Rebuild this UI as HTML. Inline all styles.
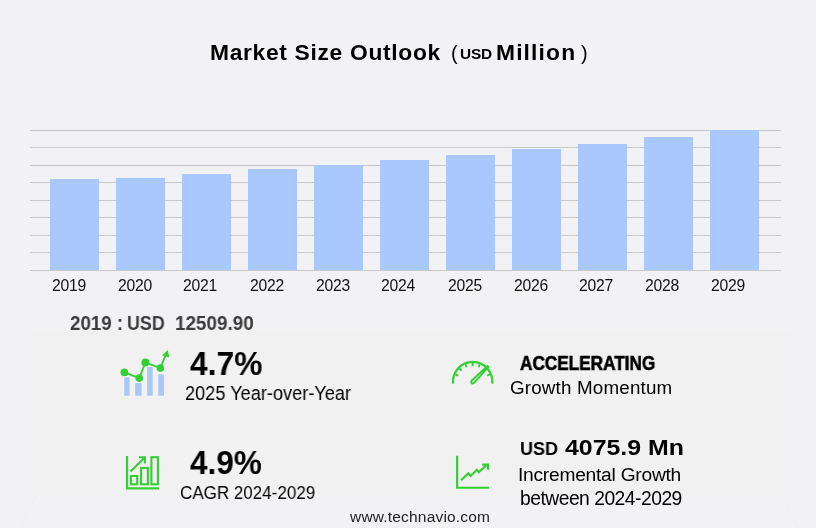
<!DOCTYPE html>
<html><head><meta charset="utf-8">
<style>
*{margin:0;padding:0;box-sizing:border-box}
html,body{width:816px;height:528px;overflow:hidden;background:#f2f2f4;font-family:"Liberation Sans",sans-serif;color:#000}
.a{position:absolute;white-space:nowrap;line-height:1;transform-origin:0 0;will-change:transform}
.grid{position:absolute;left:30px;width:751px;height:1px;background:#c8c8c8}
.bar{position:absolute;width:49px;background:#a8c8fe}
#panel{position:absolute;left:31px;top:330px;width:761px;height:166px;background:#f1f1f1}
svg{position:absolute;overflow:visible}

</style></head>
<body>
<div class="grid" style="top:130px"></div>
<div class="grid" style="top:147px"></div>
<div class="grid" style="top:165px"></div>
<div class="grid" style="top:182px"></div>
<div class="grid" style="top:200px"></div>
<div class="grid" style="top:217px"></div>
<div class="grid" style="top:235px"></div>
<div class="grid" style="top:252px"></div>
<div class="grid" style="top:270px"></div>
<div class="bar" style="left:50px;top:179px;height:91px"></div>
<div class="bar" style="left:116px;top:178px;height:92px"></div>
<div class="bar" style="left:182px;top:174px;height:96px"></div>
<div class="bar" style="left:248px;top:169px;height:101px"></div>
<div class="bar" style="left:314px;top:165px;height:105px"></div>
<div class="bar" style="left:380px;top:160px;height:110px"></div>
<div class="bar" style="left:446px;top:155px;height:115px"></div>
<div class="bar" style="left:512px;top:149px;height:121px"></div>
<div class="bar" style="left:578px;top:144px;height:126px"></div>
<div class="bar" style="left:644px;top:137px;height:133px"></div>
<div class="bar" style="left:710px;top:130px;height:140px"></div>
<div id="panel"></div>
<svg style="left:0;top:0" width="816" height="528" viewBox="0 0 816 528"><path d="M124.2,395.8 V378.5 Q124.2,377.3 125.4,377.3 H128.4 Q129.6,377.3 129.6,378.5 V395.8Z" fill="#a9c8f6"/><path d="M135.1,395.8 V384.2 Q135.1,383.0 136.29999999999998,383.0 H140.4 Q141.6,383.0 141.6,384.2 V395.8Z" fill="#a9c8f6"/><path d="M147.1,395.8 V368.3 Q147.1,367.1 148.29999999999998,367.1 H151.5 Q152.7,367.1 152.7,368.3 V395.8Z" fill="#a9c8f6"/><path d="M158.2,395.8 V375.4 Q158.2,374.2 159.39999999999998,374.2 H162.8 Q164.0,374.2 164.0,375.4 V395.8Z" fill="#a9c8f6"/><polyline points="124.4,372.3 139.2,378.1 145.4,362.5 160.3,368.1 165.4,355.6" fill="none" stroke="#34cf34" stroke-width="1.8"/><circle cx="124.4" cy="372.3" r="3.9" fill="#34cf34"/><circle cx="139.2" cy="378.1" r="3.8" fill="#34cf34"/><circle cx="145.4" cy="362.5" r="4.0" fill="#34cf34"/><circle cx="160.3" cy="368.1" r="3.8" fill="#34cf34"/><polygon points="167.5,350.6 162.6,355.3 168.9,357.1" fill="#34cf34" stroke="#34cf34" stroke-width="0.6" stroke-linejoin="round"/><path d="M453.06,383.66 A19.7,19.7 0 1 1 492.24,383.66" fill="none" stroke="#34cf34" stroke-width="2.3"/><line x1="455.47" y1="374.48" x2="458.24" y2="375.63" stroke="#34cf34" stroke-width="2"/><line x1="459.50" y1="368.45" x2="461.62" y2="370.57" stroke="#34cf34" stroke-width="2"/><line x1="465.53" y1="364.42" x2="466.68" y2="367.19" stroke="#34cf34" stroke-width="2"/><line x1="472.65" y1="363.00" x2="472.65" y2="366.00" stroke="#34cf34" stroke-width="2"/><line x1="479.77" y1="364.42" x2="478.62" y2="367.19" stroke="#34cf34" stroke-width="2"/><line x1="489.83" y1="374.48" x2="487.06" y2="375.63" stroke="#34cf34" stroke-width="2"/><path d="M471.52,380.77 L487.57,365.99 L488.56,366.98 L473.78,383.03 A1.6,1.6 0 0 1 471.52,380.77Z" fill="#f1f1f1" stroke="#34cf34" stroke-width="1.9" stroke-linejoin="round"/><polyline points="127.05,456.1 127.05,488.45 159,488.45" fill="none" stroke="#34cf34" stroke-width="2.2"/><rect x="130.9" y="476.0" width="6.30" height="8.30" fill="none" stroke="#34cf34" stroke-width="2.1"/><rect x="141.1" y="468.0" width="6.80" height="16.30" fill="none" stroke="#34cf34" stroke-width="2.1"/><rect x="151.4" y="457.2" width="6.50" height="27.10" fill="none" stroke="#34cf34" stroke-width="2.1"/><line x1="130.5" y1="471.6" x2="144.6" y2="457.5" stroke="#34cf34" stroke-width="2.1"/><polyline points="138.9,457.3 144.9,457.3 144.9,463.6" fill="none" stroke="#34cf34" stroke-width="2.1"/><polyline points="457.15,455.8 457.15,487.75 489,487.75" fill="none" stroke="#34cf34" stroke-width="2.2"/><polyline points="461.1,480.3 468.3,473.4 470.6,476.0 476.9,469.8 478.8,472.1 487.5,464.3" fill="none" stroke="#34cf34" stroke-width="2.2"/><polyline points="482.2,464.6 488.0,464.6 488.0,469.8" fill="none" stroke="#34cf34" stroke-width="2.2"/><line x1="35.8" y1="496.5" x2="20" y2="528" stroke="#e9eced" stroke-width="1" stroke-dasharray="1 1.6"/><line x1="782.3" y1="496.9" x2="797.8" y2="528" stroke="#e9eced" stroke-width="1" stroke-dasharray="1 1.6"/></svg>
<div class="a" id="t1" style="left:210.47px;top:41.08px;font-size:22.80px;font-weight:bold;letter-spacing:0.685px">Market Size Outlook</div>
<div class="a" id="t2" style="left:451.01px;top:43.36px;font-size:20.00px">(</div>
<div class="a" id="t3" style="left:459.76px;top:46.20px;font-size:15.40px;font-weight:bold;letter-spacing:-0.229px">USD</div>
<div class="a" id="t4" style="left:495.55px;top:40.60px;font-size:22.80px;font-weight:bold;letter-spacing:1.147px">Million</div>
<div class="a" id="t5" style="left:580.55px;top:42.80px;font-size:20.00px">)</div>
<div class="a" id="s1a" style="left:70.08px;top:313.00px;font-size:20.10px;color:#3c3c3c;font-weight:bold;transform:scaleX(0.9326)">2019 :</div>
<div class="a" id="s1b" style="left:126.79px;top:313.00px;font-size:20.10px;color:#3c3c3c;font-weight:bold;transform:scaleX(0.8877)">USD</div>
<div class="a" id="s1c" style="left:175.19px;top:313.00px;font-size:20.10px;color:#3c3c3c;font-weight:bold;transform:scaleX(0.9381)">12509.90</div>
<div class="a" id="k1a" style="left:189.78px;top:346.96px;font-size:33.30px;font-weight:bold;transform:scaleX(0.9545)">4.7%</div>
<div class="a" id="k1b" style="left:185.12px;top:383.80px;font-size:19.90px;transform:scaleX(0.9138)">2025 Year-over-Year</div>
<div class="a" id="k2a" style="left:519.96px;top:354.18px;font-size:19.60px;font-weight:bold;transform:scaleX(0.8772);-webkit-text-stroke:0.6px #000">ACCELERATING</div>
<div class="a" id="k2b" style="left:509.90px;top:378.78px;font-size:18.80px;letter-spacing:0.182px">Growth Momentum</div>
<div class="a" id="k3a" style="left:189.70px;top:446.44px;font-size:33.30px;font-weight:bold;transform:scaleX(0.9467)">4.9%</div>
<div class="a" id="k3b" style="left:180.47px;top:484.20px;font-size:18.90px;transform:scaleX(0.9003)">CAGR 2024-2029</div>
<div class="a" id="k4a" style="left:519.70px;top:438.52px;font-size:19.10px;font-weight:bold;transform:scaleX(0.9436)">USD</div>
<div class="a" id="k4b" style="left:565.10px;top:437.80px;font-size:21.30px;font-weight:bold;transform:scaleX(1.1684)">4075.9 Mn</div>
<div class="a" id="k4c" style="left:518.40px;top:465.46px;font-size:19.20px;letter-spacing:-0.245px">Incremental Growth</div>
<div class="a" id="k4d" style="left:519.77px;top:488.66px;font-size:19.30px;letter-spacing:-0.509px">between 2024-2029</div>
<div class="a" id="f1" style="left:349.90px;top:509.01px;font-size:15.50px;color:#222;letter-spacing:0.188px">www.technavio.com</div>
<div class="a" id="y2019" style="left:51.50px;top:278.00px;font-size:15.70px;color:#111;letter-spacing:-0.250px">2019</div>
<div class="a" id="y2020" style="left:117.60px;top:278.00px;font-size:15.70px;color:#111;letter-spacing:-0.250px">2020</div>
<div class="a" id="y2021" style="left:183.30px;top:278.00px;font-size:15.70px;color:#111;letter-spacing:-0.250px">2021</div>
<div class="a" id="y2022" style="left:249.50px;top:278.00px;font-size:15.70px;color:#111;letter-spacing:-0.250px">2022</div>
<div class="a" id="y2023" style="left:315.70px;top:278.00px;font-size:15.70px;color:#111;letter-spacing:-0.250px">2023</div>
<div class="a" id="y2024" style="left:381.40px;top:278.00px;font-size:15.70px;color:#111;letter-spacing:-0.250px">2024</div>
<div class="a" id="y2025" style="left:447.80px;top:278.00px;font-size:15.70px;color:#111;letter-spacing:-0.250px">2025</div>
<div class="a" id="y2026" style="left:513.50px;top:278.00px;font-size:15.70px;color:#111;letter-spacing:-0.250px">2026</div>
<div class="a" id="y2027" style="left:579.40px;top:278.00px;font-size:15.70px;color:#111;letter-spacing:-0.250px">2027</div>
<div class="a" id="y2028" style="left:645.10px;top:278.00px;font-size:15.70px;color:#111;letter-spacing:-0.250px">2028</div>
<div class="a" id="y2029" style="left:711.30px;top:278.00px;font-size:15.70px;color:#111;letter-spacing:-0.250px">2029</div>
</body></html>
